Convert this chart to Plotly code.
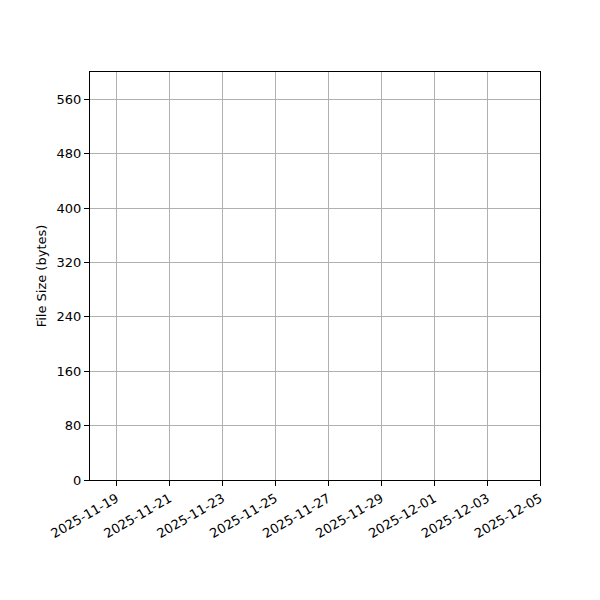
import plotly.graph_objects as go

# file size history - no records in this window
dates = []
sizes = []

x_range = ["2025-11-18", "2025-12-05"]
x_ticks = ["2025-11-19", "2025-11-21", "2025-11-23", "2025-11-25", "2025-11-27",
           "2025-11-29", "2025-12-01", "2025-12-03", "2025-12-05"]
y_range = [0, 600]
y_ticks = [0, 80, 160, 240, 320, 400, 480, 560]

fig = go.Figure()
fig.add_trace(go.Scatter(x=dates, y=sizes, mode="lines", line=dict(color="#1f77b4"), showlegend=False))

axis_style = dict(showline=True, mirror=True, linecolor="black", linewidth=1.1,
                  ticks="outside", ticklen=5, tickwidth=1.1, tickcolor="black",
                  showgrid=True, gridcolor="#b0b0b0", gridwidth=1.1, zeroline=False)

fig.update_xaxes(type="date", range=x_range, tickvals=x_ticks, ticktext=x_ticks,
                 tickangle=-30, **axis_style)
fig.update_yaxes(range=y_range, tickvals=y_ticks,
                 title=dict(text="File Size (bytes)", standoff=6, font=dict(size=13)),
                 **axis_style)

# page body adds 8px, so margins are offset to land the plot box where it should be
fig.update_layout(width=600, height=600, plot_bgcolor="white", paper_bgcolor="white",
                  font=dict(family="DejaVu Sans", size=13, color="black"),
                  margin=dict(l=82, r=68, t=64, b=128))

fig.write_html("out.html")
